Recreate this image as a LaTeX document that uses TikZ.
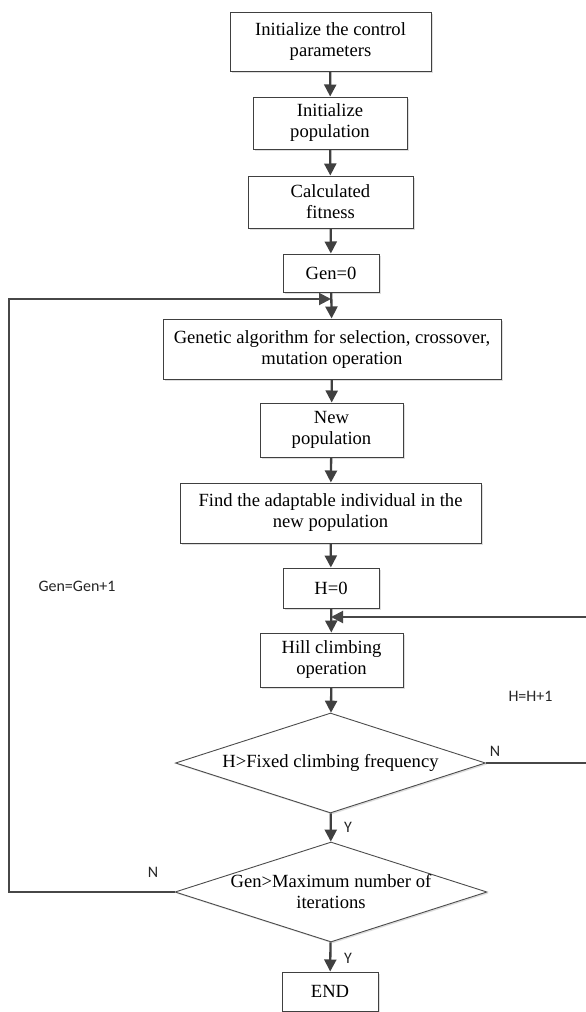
\documentclass[tikz,border=0pt]{standalone}
\usepackage{fontspec}
\setmainfont{Liberation Serif}
\newfontfamily\labfont{Carlito}
\usetikzlibrary{shapes.geometric,arrows.meta,shadows}
\begin{document}
\begin{tikzpicture}[x=1pt,y=-1pt,
  shd/.style={drop shadow={shadow xshift=1.5pt,shadow yshift=-1.5pt,fill=black!25,opacity=0.5}},
  box/.style={shd,rectangle,draw=black!75,line width=1pt,fill=white,inner sep=0pt,align=center,
    font=\fontsize{18.6}{21}\selectfont},
  dia/.style={shd,diamond,draw=black!70,line width=0.9pt,fill=white,inner sep=0pt,aspect=3.1,
    minimum width=311pt,minimum height=100pt},
  diatext/.style={align=center,inner sep=0pt,font=\fontsize{18.6}{21}\selectfont},
  lab/.style={inner sep=0pt,text=black!85,font=\labfont\fontsize{16}{18}\selectfont},
  tip/.style={-{Triangle[length=12pt,width=12pt]}},
  arr/.style={tip,draw=black!75,line width=2.3pt},
  fb/.style={draw=black!72,line width=2pt}
]
\useasboundingbox (0,0) rectangle (586,1012);
\fill[white] (0,0) rectangle (586,1012);

\node[box,minimum width=201pt,minimum height=59pt] (b1) at (330.5,41.5) {Initialize the control\\parameters};
\node[box,minimum width=154pt,minimum height=52pt] (b2) at (330,123) {Initialize\\population};
\node[box,minimum width=165pt,minimum height=52pt] (b3) at (330.5,202) {Calculated\\fitness};
\node[box,minimum width=96pt,minimum height=38pt] (g0) at (331,273) {Gen=0};
\node[box,minimum width=338pt,minimum height=60pt] (ga) at (332,349) {Genetic algorithm for selection, crossover,\\mutation operation};
\node[box,minimum width=143pt,minimum height=54pt] (np) at (331.5,430) {New\\population};
\node[box,minimum width=301pt,minimum height=60pt] (fa) at (330.5,513) {Find the adaptable individual in the\\new population};
\node[box,minimum width=96pt,minimum height=40pt] (h0) at (331,588) {H=0};
\node[box,minimum width=143pt,minimum height=54pt] (hc) at (331.5,660) {Hill climbing\\operation};
\node[dia,minimum width=310pt] (d1) at (330.5,763) {};
\node[diatext] at (d1.center) {H>Fixed climbing frequency};
\node[dia,minimum width=312pt] (d2) at (331,892) {};
\node[diatext] at (d2.center) {Gen>Maximum number of\\iterations};
\node[box,minimum width=96pt,minimum height=39pt] (end) at (330,991.5) {END};

\coordinate (m1) at (331,299);
\coordinate (m2) at (331,617);

\draw[arr] (b1) -- (b2);
\draw[arr] (b2) -- (b3);
\draw[arr] (b3) -- (g0);
\draw[arr] (g0) -- (ga);
\draw[arr] (ga) -- (np);
\draw[arr] (np) -- (fa);
\draw[arr] (fa) -- (h0);
\draw[arr] (h0) -- (hc);
\draw[arr] (hc) -- (d1);
\draw[arr] (d1) -- (d2);
\draw[arr] (d2) -- (end);

\draw[fb,tip] (d2.west) -| (9.3,299) -- (m1);
\draw[fb,tip] (d1.east) -| (592,617) -- (m2);

\node[lab] (lgen) at (77,586) {Gen=Gen+1};
\node[lab] (lh) at (530.5,696) {H=H+1};
\node[lab] (ln1) at (495,751) {N};
\node[lab] (ly1) at (348,827) {Y};
\node[lab] (ln2) at (153,872) {N};
\node[lab] (ly2) at (348,958) {Y};
\end{tikzpicture}
\end{document}
